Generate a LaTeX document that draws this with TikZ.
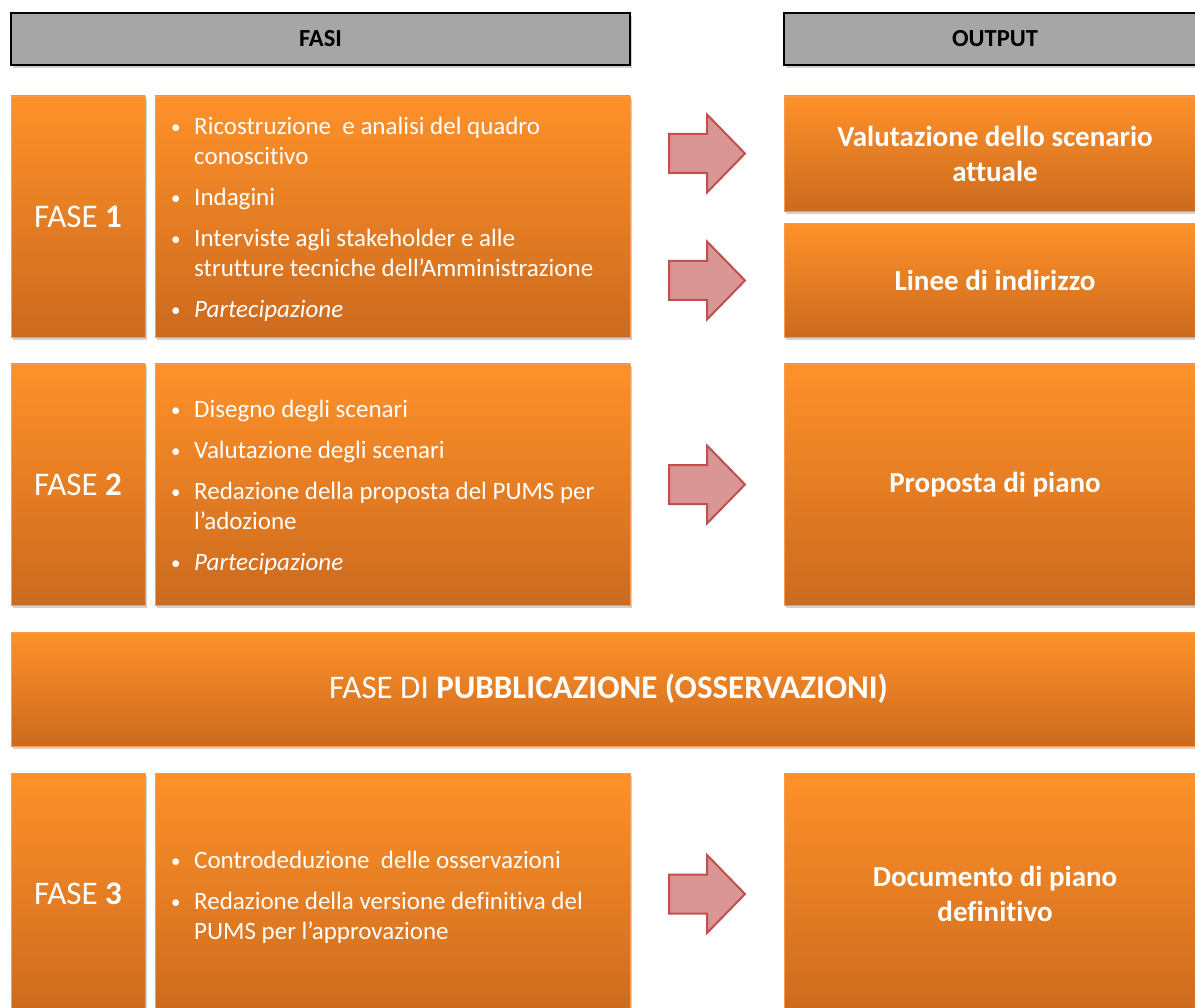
\documentclass[tikz,border=0pt]{standalone}
\usepackage{fontspec}
\setmainfont{Carlito}[Ligatures=NoCommon]
\usetikzlibrary{shadows,calc}
\definecolor{otop}{RGB}{254,145,41}
\definecolor{obot}{RGB}{204,106,30}
\definecolor{oedge}{RGB}{247,155,80}
\definecolor{hgray}{RGB}{166,166,166}
\definecolor{afill}{RGB}{217,150,148}
\definecolor{aedge}{RGB}{192,80,77}
\newcommand{\bul}{\makebox[23pt][l]{\fontsize{19}{19}\selectfont\raisebox{1pt}{\textbullet}}}
\newcommand{\indt}{\hspace*{23pt}}
\tikzset{
  obox/.style={rectangle, inner sep=0pt, outer sep=0pt, top color=otop, bottom color=obot,
    draw=oedge, line width=0.8pt, text=white,
    drop shadow={shadow xshift=1.5pt, shadow yshift=-3pt, opacity=0.3, fill=black!60}},
  hbox/.style={rectangle, inner sep=0pt, outer sep=0pt, fill=hgray, draw=black, line width=1.6pt,
    font=\fontsize{24.5}{29}\selectfont\bfseries,
    drop shadow={shadow xshift=1.5pt, shadow yshift=-3pt, opacity=0.3, fill=black!60}},
  fasetxt/.style={font=\fontsize{33}{39}\selectfont},
  outtxt/.style={font=\fontsize{29}{35}\selectfont\bfseries, align=center},
  bultxt/.style={anchor=west, inner sep=0pt, text=white, align=left, font=\fontsize{25}{30}\selectfont},
  blockarr/.pic={\draw[fill=afill, draw=aedge, line width=2pt, line join=miter]
    (-76,-19.5) -- (-38,-19.5) -- (-38,-39) -- (0,0) -- (-38,39) -- (-38,19.5) -- (-76,19.5) -- cycle;}
}
\begin{document}
\begin{tikzpicture}[x=1pt,y=-1pt]
\useasboundingbox (0,0) rectangle (1195,1008);
% headers
\node[hbox, minimum width=619pt, minimum height=52pt] (hF) at (320.5,39) {FASI};
\node[hbox, minimum width=422pt, minimum height=52pt] (hO) at (995,39) {OUTPUT};
% FASE 1
\node[obox, fasetxt, minimum width=134pt, minimum height=241pt] (f1) at (78,216.5) {FASE \textbf{1}};
\node[obox, minimum width=475pt, minimum height=241pt] (t1) at (392.5,216.5) {};
\node[bultxt] (t1txt) at ($(t1.west)+(16,3)$) {\bul Ricostruzione\ \ e analisi del quadro\\
\indt conoscitivo\\[11pt]
\bul Indagini\\[11pt]
\bul Interviste agli stakeholder e alle\\
\indt strutture tecniche dell’Amministrazione\\[11pt]
\bul \textit{Partecipazione}};
\node[obox, outtxt, minimum width=422pt, minimum height=115pt] (o1) at (995,153.5) {Valutazione dello scenario\\attuale};
\node[obox, outtxt, minimum width=422pt, minimum height=114pt] (o2) at (995,280.5) {Linee di indirizzo};
% FASE 2
\node[obox, fasetxt, minimum width=134pt, minimum height=241pt] (f2) at (78,484.5) {FASE \textbf{2}};
\node[obox, minimum width=475pt, minimum height=241pt] (t2) at (392.5,484.5) {};
\node[bultxt] (t2txt) at ($(t2.west)+(16,3)$) {\bul Disegno degli scenari\\[11pt]
\bul Valutazione degli scenari\\[11pt]
\bul Redazione della proposta del PUMS per\\
\indt l’adozione\\[11pt]
\bul \textit{Partecipazione}};
\node[obox, outtxt, minimum width=422pt, minimum height=241pt] (o3) at (995,484.5) {Proposta di piano};
% pubblicazione
\node[obox, fasetxt, minimum width=1195pt, minimum height=114pt] (pub) at (608.5,689) {FASE DI \textbf{PUBBLICAZIONE (OSSERVAZIONI)}};
% FASE 3
\node[obox, fasetxt, minimum width=134pt, minimum height=242pt] (f3) at (78,894) {FASE \textbf{3}};
\node[obox, minimum width=475pt, minimum height=242pt] (t3) at (392.5,894) {};
\node[bultxt] (t3txt) at ($(t3.west)+(16,3)$) {\bul Controdeduzione\ \ delle osservazioni\\[11pt]
\bul Redazione della versione definitiva del\\
\indt PUMS per l’approvazione};
\node[obox, outtxt, minimum width=422pt, minimum height=242pt] (o4) at (995,894) {Documento di piano\\definitivo};
% block arrows
\pic at ($(o1.west)+(-39,0)$) {blockarr};
\pic at ($(o2.west)+(-39,0)$) {blockarr};
\pic at ($(o3.west)+(-39,0)$) {blockarr};
\pic at ($(o4.west)+(-39,0)$) {blockarr};
\end{tikzpicture}
\end{document}
